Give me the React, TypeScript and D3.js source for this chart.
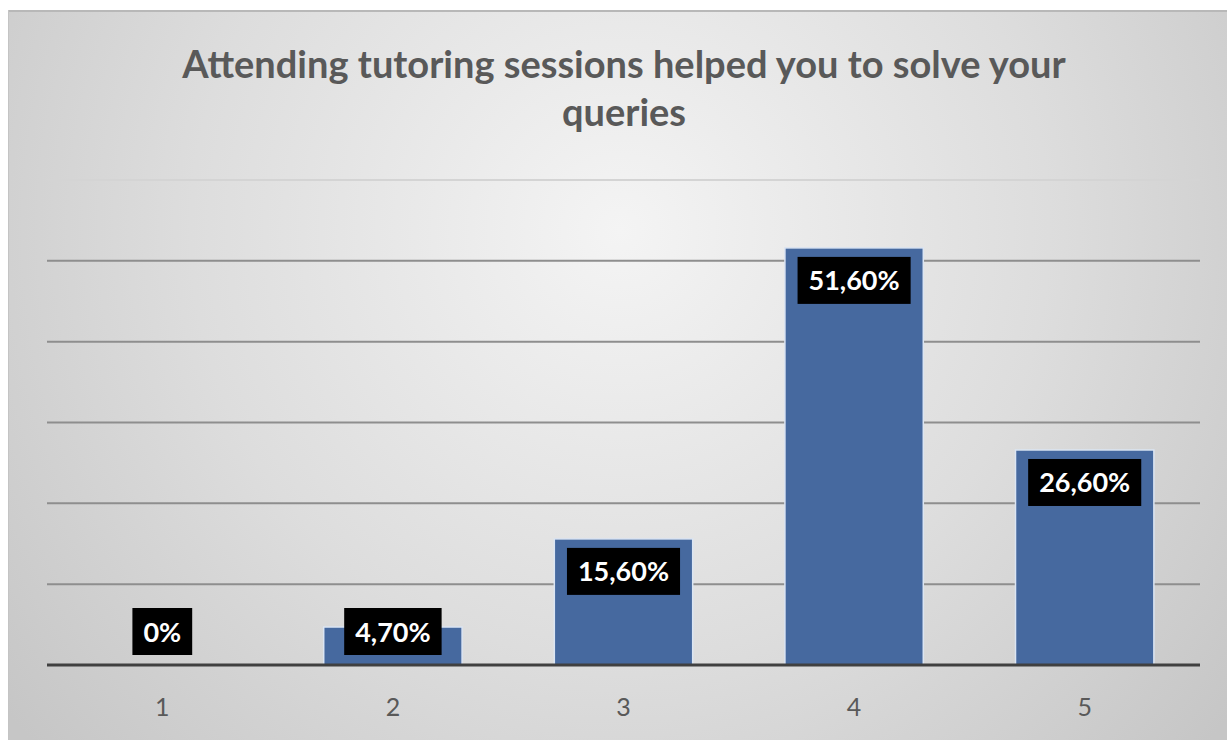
import * as d3 from "d3";

const categories = ["1", "2", "3", "4", "5"];
const values = [0, 4.7, 15.6, 51.6, 26.6];
const valueLabels = ["0%", "4,70%", "15,60%", "51,60%", "26,60%"];
const yTicks = [0, 10, 20, 30, 40, 50, 60];
const titleLines = ["Attending tutoring sessions helped you to solve your", "queries"];

const font = "Lato, 'Open Sans', 'DejaVu Sans', sans-serif";

function measure(text: string, size: number, weight = "bold") {
  const ctx = document.createElement("canvas").getContext("2d");
  if (!ctx) return text.length * size * 0.55;
  ctx.font = `${weight} ${size}px Lato`;
  return ctx.measureText(text).width;
}

export default function App() {
  const width = 1227;
  const height = 740;
  const frame = { left: 8, top: 10 };
  const plot = { left: 47, right: 1200, top: 180, bottom: 665 };

  const x = d3.scaleBand(categories, [plot.left, plot.right]).paddingInner(0.4).paddingOuter(0.2);
  const y = d3.scaleLinear([0, 60], [plot.bottom, plot.top]);

  const labelSize = 27;
  const boxH = 47;

  return (
    <div style={{ position: "fixed", left: 0, top: 0, width, height, background: "#fff" }}>
      <svg width={width} height={height} style={{ display: "block" }}>
        <defs>
          <radialGradient id="bg" gradientUnits="userSpaceOnUse" cx="620" cy="230" r="780">
            <stop offset="0%" stopColor="#f4f4f4" />
            <stop offset="55%" stopColor="#dddddd" />
            <stop offset="100%" stopColor="#c6c6c6" />
          </radialGradient>
        </defs>
        <rect x={frame.left} y={frame.top} width={width - frame.left} height={height - frame.top} fill="url(#bg)" />
        <line x1={frame.left} x2={width} y1={frame.top + 1} y2={frame.top + 1} stroke="#b8b8b8" strokeWidth={2} />
        <line x1={frame.left + 0.5} x2={frame.left + 0.5} y1={frame.top} y2={height} stroke="#c4c4c4" strokeWidth={1} />

        {titleLines.map((line, i) => (
          <text
            key={line}
            x={624}
            y={78 + i * 48}
            textAnchor="middle"
            fontFamily={font}
            fontWeight="bold"
            fontSize={38}
            fill="#595959"
          >
            {line}
          </text>
        ))}

        {yTicks.filter((t) => t > 0).map((tick) => (
          <line
            key={tick}
            x1={plot.left}
            x2={plot.right}
            y1={y(tick)}
            y2={y(tick)}
            stroke={tick === 60 ? "#d4d4d4" : "#8e8e8e"}
            strokeWidth={2}
          />
        ))}

        {categories.map((cat, i) => {
          const bx = x(cat) ?? 0;
          const by = y(values[i]);
          const bh = y(0) - by;
          return bh > 0 ? (
            <rect
              key={cat}
              x={bx}
              y={by}
              width={x.bandwidth()}
              height={bh}
              fill="#46699f"
              stroke="#dbe5f3"
              strokeWidth={1.5}
            />
          ) : null;
        })}

        <line x1={plot.left} x2={plot.right} y1={y(0)} y2={y(0)} stroke="#404040" strokeWidth={3} />

        {categories.map((cat, i) => {
          const cx = (x(cat) ?? 0) + x.bandwidth() / 2;
          const label = valueLabels[i];
          const boxW = measure(label, labelSize) + 22;
          const top = Math.min(y(values[i]) + 9, y(0) - 10 - boxH);
          return (
            <g key={cat}>
              <rect x={cx - boxW / 2} y={top} width={boxW} height={boxH} fill="#000" />
              <text
                x={cx}
                y={top + boxH / 2 + 10}
                textAnchor="middle"
                fontFamily={font}
                fontWeight="bold"
                fontSize={labelSize}
                fill="#fff"
              >
                {label}
              </text>
              <text
                x={cx}
                y={716}
                textAnchor="middle"
                fontFamily={font}
                fontSize={25}
                fill="#595959"
              >
                {cat}
              </text>
            </g>
          );
        })}
      </svg>
    </div>
  );
}
